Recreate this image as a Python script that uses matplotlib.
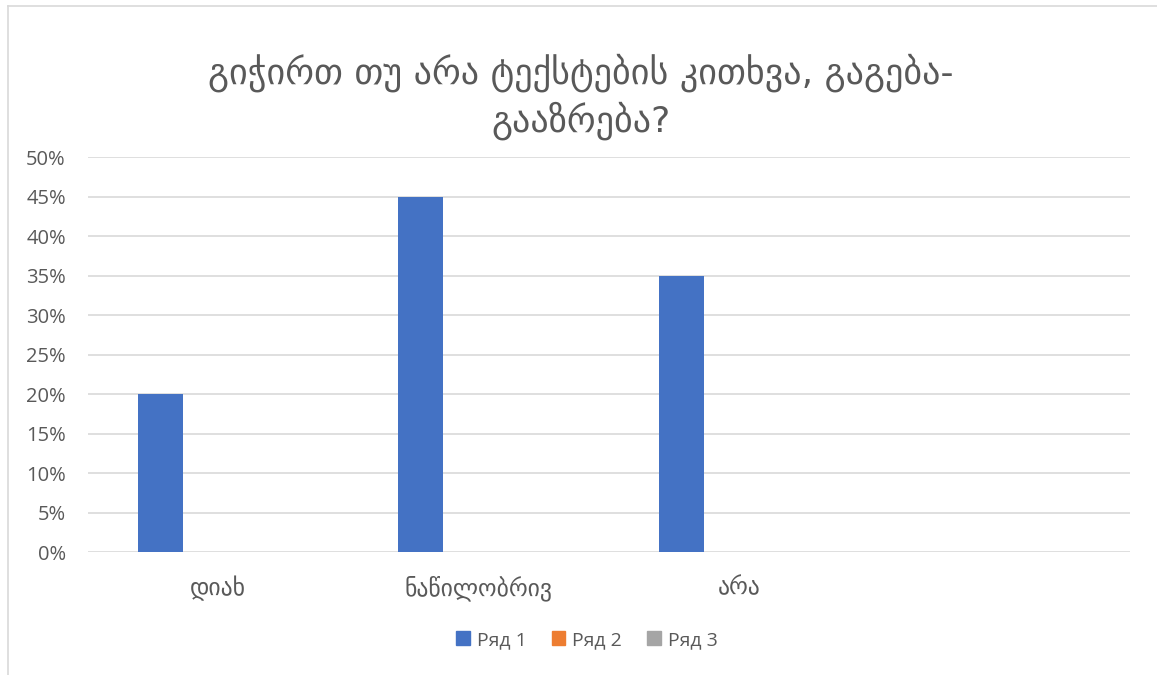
import matplotlib
matplotlib.use("Agg")
import matplotlib.pyplot as plt
from matplotlib.patches import Rectangle
from matplotlib.lines import Line2D
import numpy as np

title = "გიჭირთ თუ არა ტექსტების კითხვა, გაგება-\nგააზრება?"
categories = ["დიახ", "ნაწილობრივ", "არა", ""]
series_names = ["Ряд 1", "Ряд 2", "Ряд 3"]
series_values = [
    [0.20, 0.45, 0.35, 0.0],
    [0.0, 0.0, 0.0, 0.0],
    [0.0, 0.0, 0.0, 0.0],
]
colors = ["#4472C4", "#ED7D31", "#A5A5A5"]
yticks = [0.0, 0.05, 0.10, 0.15, 0.20, 0.25, 0.30, 0.35, 0.40, 0.45, 0.50]

W, H = 1157, 675
fig = plt.figure(figsize=(W / 100, H / 100), dpi=100)
fig.patch.set_facecolor("white")

# chart frame
fig.add_artist(Line2D([7.5 / W, 7.5 / W], [0, 1 - 5.5 / H], transform=fig.transFigure,
                      color="#d9d9d9", lw=1.2))
fig.add_artist(Line2D([7.5 / W, 1], [1 - 5.5 / H, 1 - 5.5 / H], transform=fig.transFigure,
                      color="#d9d9d9", lw=1.2))

ax = fig.add_axes([88 / W, 1 - 552 / H, (1130 - 88) / W, (552 - 157) / H])
x = np.arange(len(categories))
bw = 45 / 260.5
off = 57.8 / 260.5
for i, (name, vals, c) in enumerate(zip(series_names, series_values, colors)):
    ax.bar(x + (i - 1) * off, vals, width=bw, color=c, label=name, zorder=3)

ax.set_xlim(-0.5, len(categories) - 0.5)
ax.set_ylim(0, 0.5)
ax.set_yticks(yticks)
ax.set_yticklabels([f"{int(round(v * 100))}%" for v in yticks],
                   fontsize=14.5, color="#595959", family=["Open Sans", "DejaVu Sans"])
ax.set_xticks(x)
ax.set_xticklabels(categories, fontsize=17, color="#595959", family=["DejaVu Sans"])
ax.tick_params(axis="both", length=0)
ax.tick_params(axis="y", pad=16)
ax.tick_params(axis="x", pad=17)
ax.grid(axis="y", color="#d9d9d9", lw=1.2, zorder=0)
for s in ax.spines.values():
    s.set_visible(False)

fig.text(581 / W, 1 - 97 / H, title, ha="center", va="center", fontsize=26,
         color="#595959", family=["DejaVu Sans"], linespacing=1.3)

handles = [Rectangle((0, 0), 1, 1, color=c) for c in colors]
fig.legend(handles, series_names, loc="center", bbox_to_anchor=(587 / W, 1 - 640 / H),
           ncol=3, frameon=False, handlelength=0.7, handleheight=0.7,
           handletextpad=0.35, columnspacing=1.3,
           prop={"family": ["Open Sans", "DejaVu Sans"], "size": 14},
           labelcolor="#595959")

fig.savefig("out.png", dpi=100, facecolor="white")
